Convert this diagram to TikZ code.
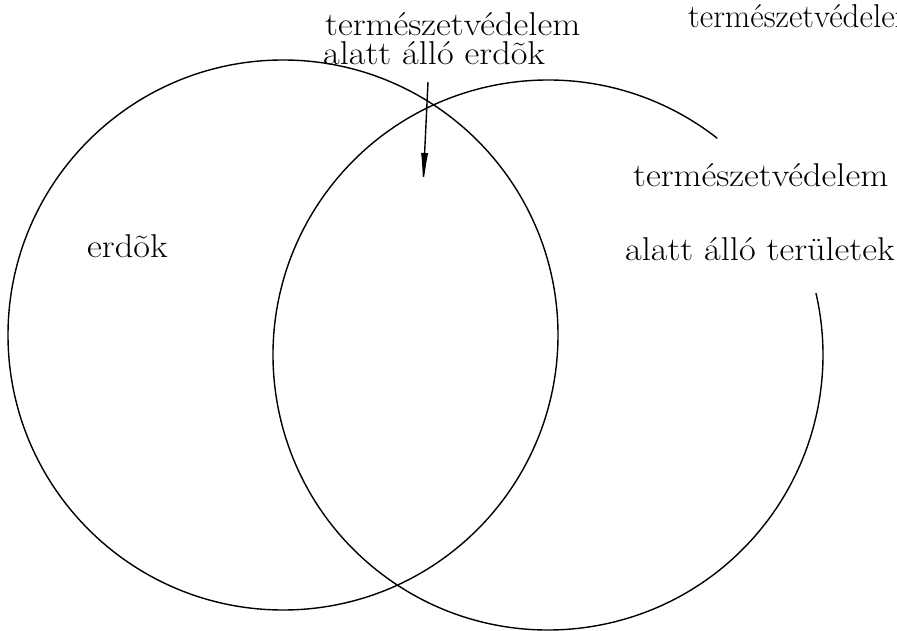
\documentclass[tikz,border=0pt]{standalone}
\usepackage{fontspec}
\setmainfont{Latin Modern Roman}[FakeStretch=1.1]
\newfontfamily\narrowlm{Latin Modern Roman}
\usetikzlibrary{arrows.meta}
\tikzset{
    ring/.style={line width=1.4pt},
    lbl/.style={anchor=base west, inner sep=0pt, font=\fontsize{33}{36}\selectfont},
}
\begin{document}
\begin{tikzpicture}[x=1pt,y=-1pt]
    \clip (0,0) rectangle (897,631);
    \fill[white] (0,0) rectangle (897,631);
    % left set: the forests
    \draw[ring] (283,335) circle (275);
    % right set, left open where its label sits
    \draw[ring] (548,355) ++(-52:275) arc[start angle=-52, end angle=-373, radius=275];

    \node[lbl] (topa) at (325,36) {természetvédelem};
    \node[lbl] (topb) at (323,65) {alatt álló erdõk};
    \node[lbl,font=\fontsize{33}{36}\narrowlm] (corner) at (688,28) {természetvédelem};
    \node[lbl] (righta) at (633,187) {természetvédelem};
    \node[lbl] (rightb) at (625,260) {alatt álló területek};
    \node[lbl] (forest) at (87,258) {erdõk};

    % arrow into the overlap
    \coordinate (tail) at (428,82);
    \coordinate (tip) at (423,187);
    \draw[line width=1.4pt,-{Latex[length=34pt,width=7pt]}] (tail) -- (tip);
\end{tikzpicture}
\end{document}
